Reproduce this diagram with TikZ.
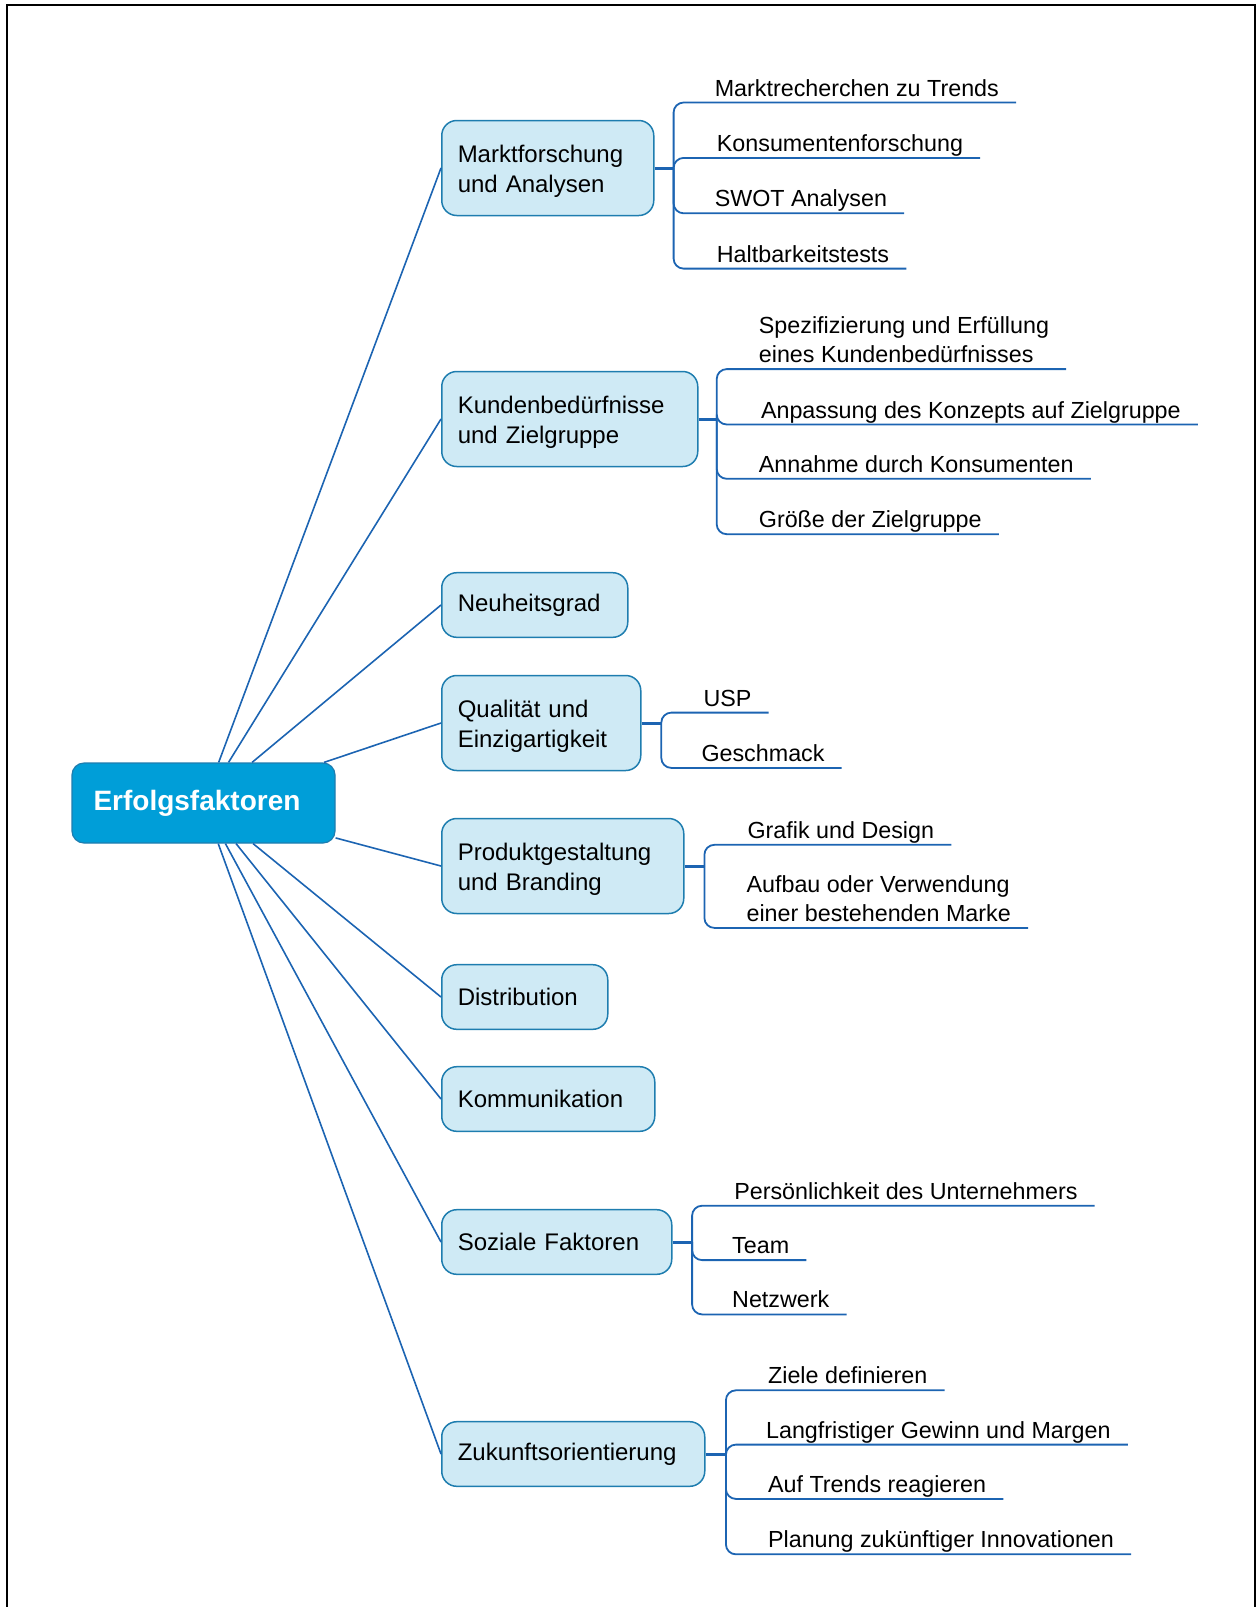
\documentclass[tikz,border=0pt]{standalone}
\usepackage{fontspec}
\setmainfont{Liberation Sans}
\definecolor{rootfill}{RGB}{0,158,216}
\definecolor{boxfill}{RGB}{207,234,245}
\definecolor{boxdraw}{RGB}{30,125,175}
\definecolor{linkblue}{RGB}{28,100,178}
\newcommand\rootfont{\fontsize{28}{32}\selectfont\bfseries}
\newcommand\branchfont{\fontsize{24}{30.5}\selectfont}
\newcommand\leaffont{\fontsize{23.3}{28.7}\selectfont}

\begin{document}
\begin{tikzpicture}[x=1pt,y=-1pt,
   root/.style={rounded corners=12pt,fill=rootfill,draw=boxdraw,line width=1.2pt,
                text=white,font=\rootfont,minimum width=263pt,minimum height=80pt},
   branch/.style={rounded corners=15pt,fill=boxfill,draw=boxdraw,line width=1.5pt,
                font=\branchfont,align=left,anchor=west,inner xsep=16pt,
                text width=#1,minimum height=64.6pt},
   tall/.style={minimum height=95pt,text depth=28.5pt},
   leaf/.style={font=\leaffont,align=left,anchor=south west,inner xsep=17pt,
                inner ysep=0.8pt,text depth=5.5pt},
   link/.style={draw=linkblue,line width=1.6pt},
   stem/.style={draw=linkblue,line width=3pt},
   twig/.style={draw=linkblue,line width=1.8pt,rounded corners=10pt}]
   \useasboundingbox (0,0) rectangle (1258,1607);
   \draw[line width=2pt] (7,1607) -- (7,5.3) -- (1255,5.3) -- (1255,1607);

   \node[root] (root) at (203.5,803) {Erfolgsfaktoren\kern13pt};

   \node[branch=180pt,tall] (b1) at (441,168)  {Marktforschung\\und Analysen};
   \node[branch=224pt,tall] (b2) at (441,419)  {Kundenbedürfnisse\\und Zielgruppe};
   \node[branch=154pt]      (b3) at (441,605)  {Neuheitsgrad};
   \node[branch=167pt,tall] (b4) at (441,723)  {Qualität und\\Einzigartigkeit};
   \node[branch=210pt,tall] (b5) at (441,866)  {Produktgestaltung\\und Branding};
   \node[branch=134pt]      (b6) at (441,997)  {Distribution};
   \node[branch=181pt]      (b7) at (441,1099) {Kommunikation};
   \node[branch=198pt]      (b8) at (441,1242) {Soziale Faktoren};
   \node[branch=231pt]      (b9) at (441,1454) {Zukunftsorientierung};

   \foreach \i in {1,...,9}
      \draw[link] (root) -- (b\i.west);

   % Marktforschung
   \coordinate (h1) at (673.6,168);
   \node[leaf] (m1) at (697.6,102.5) {Marktrecherchen zu Trends};
   \node[leaf] (m2) at (699.7,157.9) {Konsumentenforschung};
   \node[leaf] (m3) at (697.6,213.3) {SWOT Analysen};
   \node[leaf] (m4) at (699.7,268.6) {Haltbarkeitstests};
   \draw[stem] (b1) -- (h1);
   \foreach \l in {m1,m2,m3,m4}
      \draw[twig] (h1) |- (\l.south east);

   % Kundenbeduerfnisse
   \coordinate (h2) at (716.7,419);
   \node[leaf] (k1) at (741.7,369.1) {Spezifizierung und Erfüllung\\eines Kundenbedürfnisses};
   \node[leaf] (k2) at (743.8,424.5) {Anpassung des Konzepts auf Zielgruppe};
   \node[leaf] (k3) at (741.7,478.8) {Annahme durch Konsumenten};
   \node[leaf] (k4) at (741.7,534.2) {Größe der Zielgruppe};
   \draw[stem] (b2) -- (h2);
   \foreach \l in {k1,k2,k3,k4}
      \draw[twig] (h2) |- (\l.south east);

   % Qualitaet
   \coordinate (h4) at (661.3,723);
   \node[leaf] (q1) at (686.3,712.6) {USP};
   \node[leaf] (q2) at (684.3,767.9) {Geschmack};
   \draw[stem] (b4) -- (h4);
   \foreach \l in {q1,q2}
      \draw[twig] (h4) |- (\l.south east);

   % Produktgestaltung
   \coordinate (h5) at (704.4,866);
   \node[leaf] (p1) at (730.4,844.8) {Grafik und Design};
   \node[leaf] (p2) at (729.4,927.9) {Aufbau oder Verwendung\\einer bestehenden Marke};
   \draw[stem] (b5) -- (h5);
   \foreach \l in {p1,p2}
      \draw[twig] (h5) |- (\l.south east);

   % Soziale Faktoren
   \coordinate (h8) at (692.1,1242);
   \node[leaf] (s1) at (717.1,1205.7) {Persönlichkeit des Unternehmers};
   \node[leaf] (s2) at (715,1260.1)   {Team};
   \node[leaf] (s3) at (715,1314.4)   {Netzwerk};
   \draw[stem] (b8) -- (h8);
   \foreach \l in {s1,s2,s3}
      \draw[twig] (h8) |- (\l.south east);

   % Zukunftsorientierung
   \coordinate (h9) at (725.9,1454);
   \node[leaf] (z1) at (750.9,1390.3) {Ziele definieren};
   \node[leaf] (z2) at (748.9,1444.6) {Langfristiger Gewinn und Margen};
   \node[leaf] (z3) at (750.9,1498.9) {Auf Trends reagieren};
   \node[leaf] (z4) at (750.9,1554.3) {Planung zukünftiger Innovationen};
   \draw[stem] (b9) -- (h9);
   \foreach \l in {z1,z2,z3,z4}
      \draw[twig] (h9) |- (\l.south east);
\end{tikzpicture}
\end{document}
